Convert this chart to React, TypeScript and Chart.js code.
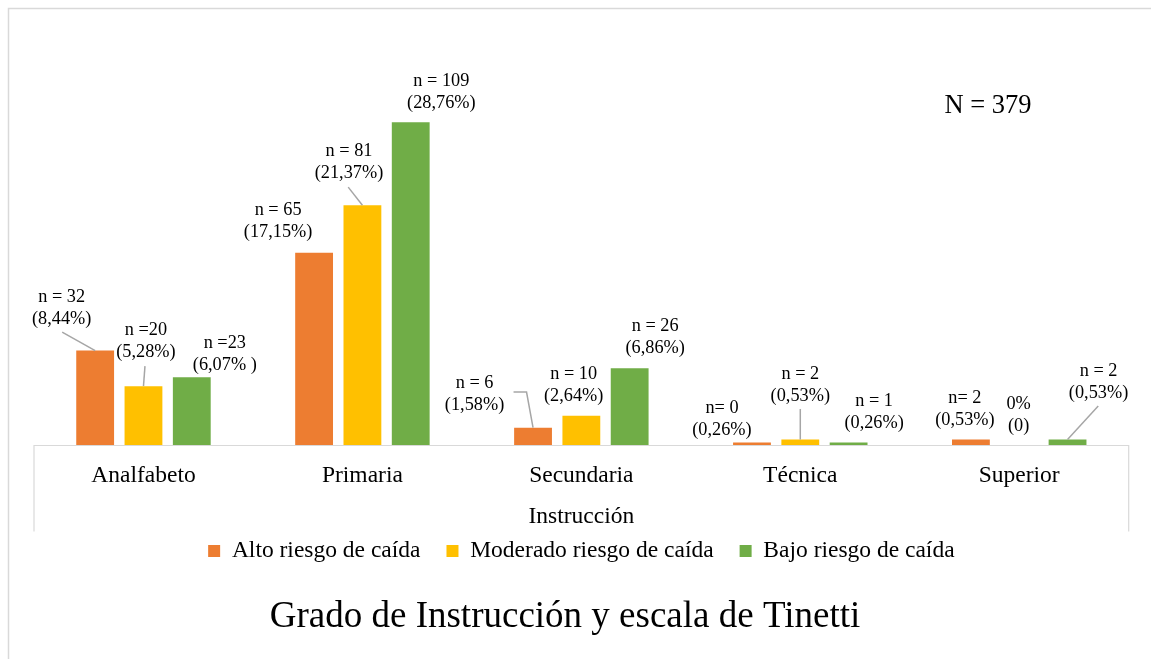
import React, { useEffect, useRef } from 'react';
import { Chart, registerables } from 'chart.js';

Chart.register(...registerables);

const FONT = "'Liberation Serif', 'Times New Roman', serif";

const categories = ['Analfabeto', 'Primaria', 'Secundaria', 'Técnica', 'Superior'];
const seriesNames = ['Alto riesgo de caída', 'Moderado riesgo de caída', 'Bajo riesgo de caída'];
const seriesColors = ['#ED7D31', '#FFC000', '#70AD47'];

const altoValues = [32, 65, 6, 1, 2];
const moderadoValues = [20, 81, 10, 2, 0];
const bajoValues = [23, 109, 26, 1, 2];

const yMin = 0;
const yMax = 120;

const altoLabels = [
  ['n = 32', '(8,44%)'],
  ['n = 65', '(17,15%)'],
  ['n = 6', '(1,58%)'],
  ['n= 0', '(0,26%)'],
  ['n= 2', '(0,53%)'],
];
const moderadoLabels = [
  ['n =20', '(5,28%)'],
  ['n = 81', '(21,37%)'],
  ['n = 10', '(2,64%)'],
  ['n = 2', '(0,53%)'],
  ['0%', '(0)'],
];
const bajoLabels = [
  ['n =23', '(6,07% )'],
  ['n = 109', '(28,76%)'],
  ['n = 26', '(6,86%)'],
  ['n = 1', '(0,26%)'],
  ['n = 2', '(0,53%)'],
];

const totalLabel = 'N = 379';
const axisTitle = 'Instrucción';
const chartTitle = 'Grado de Instrucción y escala de Tinetti';

// label placement (offset of label block centre from bar top centre)
const altoOffsets = [[-33.5, -42], [-36, -31], [-58.5, -33.5], [-30, -23], [-6, -30.8]];
const moderadoOffsets = [[2.5, -45], [-13.4, -42.6], [-7.7, -30.6], [0, -54.6], [-0.6, -30.5]];
const bajoOffsets = [[33, -23], [30.6, -29.5], [25.5, -31.1], [25.5, -30.6], [31, -57.6]];

// leader lines: points relative to label centre, ending at the bar top
const altoLeaders = [[[0.5, 23.5]], null, [[39, -2.2], [52, -2.2]], null, null];
const moderadoLeaders = [[[-1, 25]], [[-0.8, 24.5]], null, [[0, 24]], null];
const bajoLeaders = [null, null, null, null, [[-0.3, 24]]];

const allLabels = [altoLabels, moderadoLabels, bajoLabels];
const allOffsets = [altoOffsets, moderadoOffsets, bajoOffsets];
const allLeaders = [altoLeaders, moderadoLeaders, bajoLeaders];

const decorPlugin = {
  id: 'decor',
  afterDatasetsDraw(chart: any) {
    const ctx = chart.ctx;
    ctx.save();
    ctx.font = `18.3px ${FONT}`;
    ctx.fillStyle = '#000';
    ctx.textAlign = 'center';
    ctx.textBaseline = 'middle';
    chart.data.datasets.forEach((_ds: any, i: number) => {
      const meta = chart.getDatasetMeta(i);
      meta.data.forEach((bar: any, j: number) => {
        const [dx, dy] = allOffsets[i][j];
        const cx = bar.x + dx;
        const cy = bar.y + dy;
        const lines = allLabels[i][j];
        lines.forEach((t: string, k: number) => {
          ctx.fillText(t, cx, cy + (k - (lines.length - 1) / 2) * 22);
        });
        const pts = allLeaders[i][j];
        if (pts) {
          ctx.beginPath();
          ctx.moveTo(cx + pts[0][0], cy + pts[0][1]);
          for (let p = 1; p < pts.length; p++) ctx.lineTo(cx + pts[p][0], cy + pts[p][1]);
          ctx.lineTo(bar.x, bar.y);
          ctx.strokeStyle = '#a6a6a6';
          ctx.lineWidth = 1.5;
          ctx.stroke();
        }
      });
    });
    ctx.restore();
  },
  afterDraw(chart: any) {
    const ctx = chart.ctx;
    const area = chart.chartArea;
    ctx.save();
    // outer frame
    ctx.strokeStyle = '#d9d9d9';
    ctx.lineWidth = 1.5;
    ctx.beginPath();
    ctx.moveTo(8.5, chart.height);
    ctx.lineTo(8.5, 8.5);
    ctx.lineTo(chart.width, 8.5);
    ctx.stroke();
    // category axis box
    ctx.lineWidth = 1.2;
    ctx.beginPath();
    ctx.moveTo(area.left, 531.5);
    ctx.lineTo(area.left, area.bottom);
    ctx.lineTo(area.right, area.bottom);
    ctx.lineTo(area.right, 531.5);
    ctx.stroke();
    // N label
    ctx.fillStyle = '#000';
    ctx.textAlign = 'center';
    ctx.textBaseline = 'middle';
    ctx.font = `26.5px ${FONT}`;
    ctx.fillText(totalLabel, 988, 106);
    // title
    ctx.font = `37px ${FONT}`;
    ctx.fillText(chartTitle, 565, 617);
    ctx.restore();
  },
};

export default function App() {
  const canvasRef = useRef<HTMLCanvasElement | null>(null);

  useEffect(() => {
    if (!canvasRef.current) return;
    const valueSets = [altoValues, moderadoValues, bajoValues];
    const chart = new Chart(canvasRef.current, {
      type: 'bar',
      data: {
        labels: categories,
        datasets: seriesNames.map((name, i) => ({
          label: name,
          data: valueSets[i],
          backgroundColor: seriesColors[i],
          borderWidth: 0,
          barPercentage: 0.783,
          categoryPercentage: 0.662,
        })),
      },
      options: {
        responsive: false,
        animation: false,
        events: [],
        layout: { padding: { left: 34, right: 22.3, top: 89.5, bottom: 86.25 } },
        plugins: {
          legend: {
            position: 'bottom',
            labels: {
              font: { family: FONT, size: 23.5 },
              color: '#000',
              boxWidth: 12,
              boxHeight: 12,
              padding: 26,
            },
          },
          title: { display: false },
          tooltip: { enabled: false },
        },
        scales: {
          x: {
            grid: { display: false, drawTicks: false },
            border: { display: false },
            ticks: {
              font: { family: FONT, size: 23.5 },
              color: '#000',
              padding: 16.4,
              maxRotation: 0,
              autoSkip: false,
            },
            title: {
              display: true,
              text: axisTitle,
              font: { family: FONT, size: 23.5 },
              color: '#000',
              padding: { top: -3.6, bottom: -17.85 },
            },
          },
          y: { display: false, min: yMin, max: yMax },
        },
      },
      plugins: [decorPlugin],
    });
    return () => chart.destroy();
  }, []);

  return (
    <div style={{ position: 'absolute', left: 0, top: 0, width: 1151, height: 659, background: '#fff' }}>
      <canvas ref={canvasRef} width={1151} height={659} style={{ display: 'block' }} />
    </div>
  );
}
